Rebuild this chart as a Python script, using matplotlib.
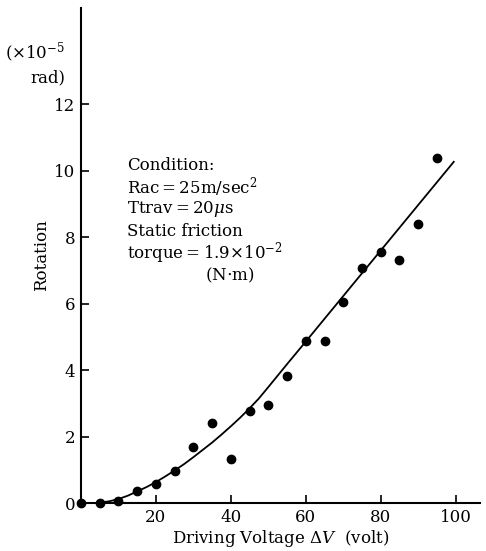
import matplotlib
matplotlib.use("Agg")
import matplotlib.pyplot as plt

# measured points
voltage = [0, 5, 10, 15, 20, 25, 30, 35, 40, 45, 50, 55, 60, 65, 70, 75, 80, 85, 90, 95]
rotation = [0, 0, 0.07, 0.36, 0.57, 0.96, 1.69, 2.41, 1.31, 2.77, 2.95, 3.83, 4.89, 4.89,
            6.05, 7.06, 7.56, 7.32, 8.40, 10.38]

# fitted curve
fit_v = [4, 7.5, 10, 12.5, 15, 17.5, 20, 22.5, 25, 27.5, 30, 32.5, 35, 37.5, 40, 42.5, 45,
         47.5, 50, 55, 60, 70, 80, 90, 99.5]
fit_r = [0, 0.05, 0.12, 0.22, 0.35, 0.48, 0.63, 0.80, 0.98, 1.17, 1.38, 1.60, 1.82, 2.06,
         2.31, 2.57, 2.85, 3.15, 3.49, 4.18, 4.86, 6.23, 7.60, 8.97, 10.27]

x_ticks = [20, 40, 60, 80, 100]
y_ticks = [0, 2, 4, 6, 8, 10, 12]

plt.rcParams['font.family'] = 'DejaVu Serif'
plt.rcParams['mathtext.fontset'] = 'dejavuserif'

W, H = 486, 551
fig = plt.figure(figsize=(W / 100, H / 100), dpi=100)
ax = fig.add_axes([81 / W, (H - 503) / H, (480 - 81) / W, (503 - 8) / H])

ax.plot(fit_v, fit_r, color='black', lw=1.3)
ax.plot(voltage, rotation, 'o', color='black', ms=6, clip_on=False, zorder=3)

ax.set_xlim(0, 106.5)
ax.set_ylim(0, 14.9)
ax.set_xticks(x_ticks)
ax.set_yticks(y_ticks)
ax.tick_params(direction='in', length=6, width=1.2, labelsize=12, pad=4)
for s in ['top', 'right']:
    ax.spines[s].set_visible(False)
for s in ['left', 'bottom']:
    ax.spines[s].set_linewidth(1.5)

ax.set_xlabel(r'Driving Voltage $\mathit{\Delta V}$  (volt)', fontsize=12, labelpad=2)
ax.set_ylabel('Rotation', fontsize=12, labelpad=3)

fig.text(65 / W, 1 - 53 / H, r'$(\times 10^{-5}$', ha='right', va='center', fontsize=12)
fig.text(65 / W, 1 - 78 / H, 'rad)', ha='right', va='center', fontsize=12)

lines = ['Condition:',
         r'Rac$=$25m/sec$^2$',
         r'Ttrav$=$20$\mu$s',
         'Static friction',
         r'torque$=$1.9$\times$10$^{-2}$']
for i, t in enumerate(lines):
    fig.text(127 / W, 1 - (165 + 22 * i) / H, t, ha='left', va='center', fontsize=12)
fig.text(205 / W, 1 - 275 / H, '(N$\\cdot$m)', ha='left', va='center', fontsize=12)

fig.savefig('out.png', dpi=100)
